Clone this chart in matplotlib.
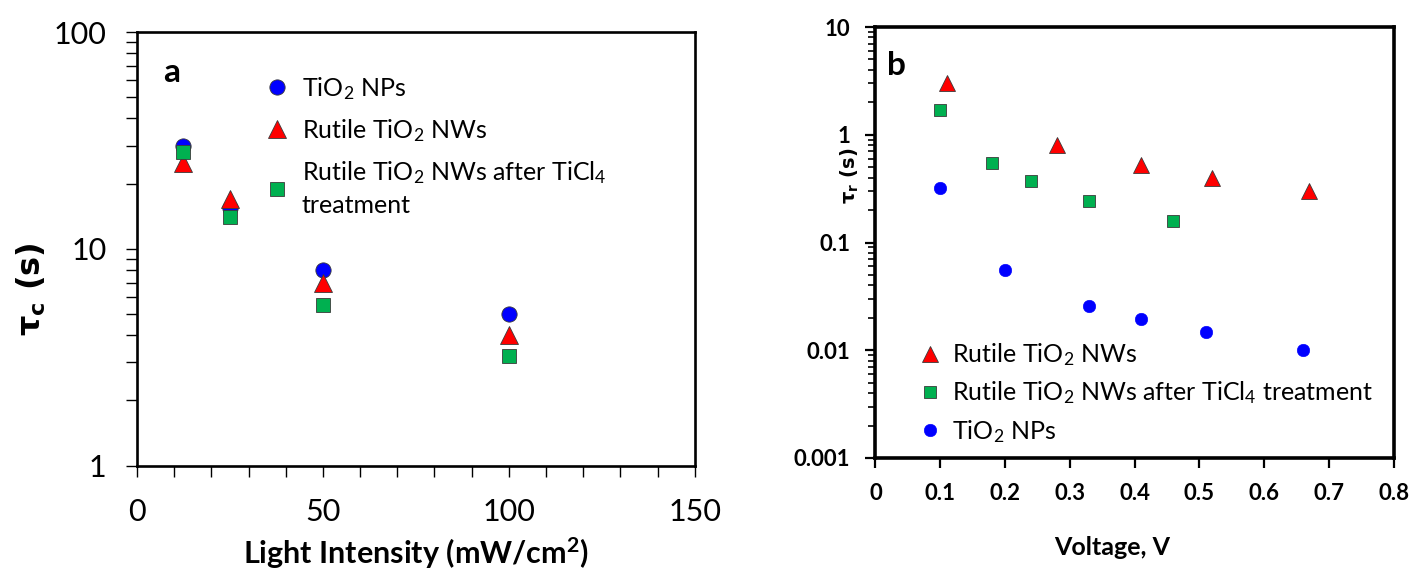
import matplotlib
matplotlib.use("Agg")
import matplotlib.pyplot as plt
from matplotlib.ticker import FixedLocator, LogLocator, NullFormatter, MultipleLocator

plt.rcParams['font.family'] = ['Lato', 'DejaVu Sans']
plt.rcParams['mathtext.fontset'] = 'custom'
plt.rcParams['mathtext.rm'] = 'Lato'
plt.rcParams['mathtext.it'] = 'Lato:italic'
plt.rcParams['mathtext.bf'] = 'Lato:bold'

# ---- Panel a data ----
intensity = [12.5, 25, 50, 100]
tau_c_nps = [30, 15.5, 8, 5]
tau_c_nws = [25, 17, 7, 4]
tau_c_ticl4 = [28, 14, 5.5, 3.2]
a_xticks = [0, 50, 100, 150]
a_yticks = [1, 10, 100]

# ---- Panel b data ----
v_nws = [0.11, 0.28, 0.41, 0.52, 0.67]
tau_r_nws = [3.0, 0.8, 0.52, 0.40, 0.30]
v_ticl4 = [0.10, 0.18, 0.24, 0.33, 0.46]
tau_r_ticl4 = [1.7, 0.55, 0.37, 0.245, 0.16]
v_nps = [0.10, 0.20, 0.33, 0.41, 0.51, 0.66]
tau_r_nps = [0.32, 0.055, 0.026, 0.0195, 0.0148, 0.010]
b_xticks = [0, 0.1, 0.2, 0.3, 0.4, 0.5, 0.6, 0.7, 0.8]
b_xticklabels = ['0', '0.1', '0.2', '0.3', '0.4', '0.5', '0.6', '0.7', '0.8']
b_yticks = [0.001, 0.01, 0.1, 1, 10]
b_yticklabels = ['0.001', '0.01', '0.1', '1', '10']

lab_nps = 'TiO$_2$ NPs'
lab_nws = 'Rutile TiO$_2$ NWs'
lab_ticl4_a = 'Rutile TiO$_2$ NWs after TiCl$_4$\ntreatment'
lab_ticl4_b = 'Rutile TiO$_2$ NWs after TiCl$_4$ treatment'

BLUE = '#0000FF'
RED = '#FF0000'
GREEN = '#00B050'
EDGE = '#3a3a3a'

fig = plt.figure(figsize=(14.12, 5.75), dpi=100)

# ================= Panel a =================
axa = fig.add_axes([0.097, 0.190, 0.395, 0.754])
axa.set_yscale('log')
axa.plot(intensity, tau_c_nps, 'o', ms=11, mfc=BLUE, mec=EDGE, mew=0.6, ls='none', label=lab_nps)
axa.plot(intensity, tau_c_nws, '^', ms=12.5, mfc=RED, mec=EDGE, mew=0.6, ls='none', label=lab_nws)
axa.plot(intensity, tau_c_ticl4, 's', ms=10, mfc=GREEN, mec=EDGE, mew=0.6, ls='none', label=lab_ticl4_a)
axa.set_xlim(0, 150)
axa.set_ylim(1, 100)
axa.xaxis.set_major_locator(FixedLocator(a_xticks))
axa.xaxis.set_minor_locator(MultipleLocator(10))
axa.yaxis.set_major_locator(FixedLocator(a_yticks))
axa.set_yticklabels([str(v) for v in a_yticks])
axa.yaxis.set_minor_locator(LogLocator(base=10, subs=range(2, 10)))
axa.yaxis.set_minor_formatter(NullFormatter())
for s in axa.spines.values():
    s.set_linewidth(1.9)
axa.tick_params(which='both', direction='out', length=8, width=1.0, top=False, right=False)
axa.tick_params(which='major', labelsize=22)
axa.tick_params(axis='x', which='major', pad=15)
axa.tick_params(axis='y', which='major', pad=14)
axa.set_xlabel('Light Intensity (mW/cm$^\\mathbf{2}$)', fontsize=22, fontweight='bold')
axa.xaxis.set_label_coords(0.5, -0.16)
axa.set_ylabel('τ$_\\mathbf{c}$ (s)', fontsize=23, fontweight='bold', family=['DejaVu Sans'],
               math_fontfamily='dejavusans')
axa.yaxis.set_label_coords(-0.16, 0.408)
axa.text(0.047, 0.908, 'a', transform=axa.transAxes, fontsize=24, fontweight='bold', va='center')
lega = axa.legend(loc='upper left', bbox_to_anchor=(0.21, 0.925), frameon=False, fontsize=18,
                  handletextpad=0.5, labelspacing=0.62, handlelength=1.0, borderaxespad=0)
for t in lega.get_texts():
    t.set_linespacing(1.4)

# ================= Panel b =================
axb = fig.add_axes([0.620, 0.2035, 0.367, 0.7495])
axb.set_yscale('log')
axb.plot(v_nws, tau_r_nws, '^', ms=12, mfc=RED, mec=EDGE, mew=0.6, ls='none', label=lab_nws)
axb.plot(v_ticl4, tau_r_ticl4, 's', ms=8, mfc=GREEN, mec=EDGE, mew=0.6, ls='none', label=lab_ticl4_b)
axb.plot(v_nps, tau_r_nps, 'o', ms=9, mfc=BLUE, mec=BLUE, mew=0.4, ls='none', label=lab_nps)
axb.set_xlim(0, 0.8)
axb.set_ylim(0.001, 10)
axb.xaxis.set_major_locator(FixedLocator(b_xticks))
axb.set_xticklabels(b_xticklabels)
axb.yaxis.set_major_locator(FixedLocator(b_yticks))
axb.set_yticklabels(b_yticklabels)
axb.yaxis.set_minor_locator(LogLocator(base=10, subs=range(2, 10)))
axb.yaxis.set_minor_formatter(NullFormatter())
for s in axb.spines.values():
    s.set_linewidth(2.6)
axb.tick_params(which='major', direction='out', length=7, width=1.6, labelsize=16, pad=11)
axb.tick_params(which='minor', direction='out', length=5, width=1.2)
for lbl in axb.get_xticklabels() + axb.get_yticklabels():
    lbl.set_fontweight('bold')
axb.set_xlabel('Voltage, V', fontsize=18, fontweight='bold')
axb.xaxis.set_label_coords(0.456, -0.18)
axb.set_ylabel('τ$_\\mathbf{r}$ (s)', fontsize=14, fontweight='bold', family=['DejaVu Sans'],
               math_fontfamily='dejavusans')
axb.yaxis.set_label_coords(-0.027, 0.654)
axb.text(0.023, 0.91, 'b', transform=axb.transAxes, fontsize=24, fontweight='bold', va='center')
legb = axb.legend(loc='lower left', bbox_to_anchor=(0.062, 0.008), frameon=False, fontsize=18,
                  handletextpad=0.36, labelspacing=0.45, handlelength=1.0, borderaxespad=0)

fig.savefig('out.png', dpi=100)
